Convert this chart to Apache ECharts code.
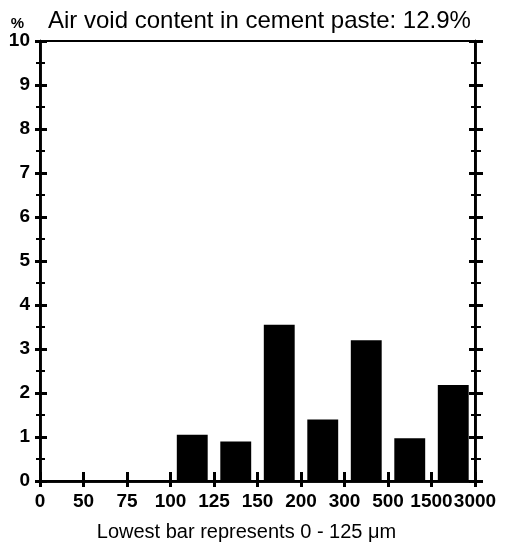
<!DOCTYPE html>
<html>
<head>
<meta charset="utf-8">
<script src="https://cdn.jsdelivr.net/npm/echarts@6/dist/echarts.min.js"></script>
<style>
html,body{margin:0;padding:0;background:#fff;}
#chart{width:507px;height:550px;}
</style>
</head>
<body>
<div id="chart"></div>
<script>
// Size classes (µm) – each bar spans the interval between two tick labels
const tickLabels = ['0', '50', '75', '100', '125', '150', '200', '300', '500', '1500', '3000'];
const categories = ['0-50', '50-75', '75-100', '100-125', '125-150', '150-200', '200-300', '300-500', '500-1500', '1500-3000'];
const values = [0, 0, 0, 1.05, 0.9, 3.55, 1.4, 3.2, 0.97, 2.18];
const yTicks = [0, 10, 1];
const titleText = 'Air void content in cement paste: 12.9%';
const xName = 'Lowest bar represents 0 - 125 \u03bcm';
const yName = '%';

const FONT = 'Liberation Sans, Arial, Helvetica, sans-serif';
const NARROW = 'Liberation Sans Narrow, Liberation Sans, Arial, sans-serif';
const chart = echarts.init(document.getElementById('chart'), null, {renderer: 'canvas'});

function yAx(position, inside, len, minorLen, showLabel, name) {
  return {
    type: 'value', position: position, min: yTicks[0], max: yTicks[1], interval: yTicks[2],
    name: name || '', nameLocation: 'end', nameGap: 10,
    nameTextStyle: {fontFamily: NARROW, fontSize: 15, fontWeight: 'bold', color: '#000', align: 'right', padding: [0, 16, 0, 0]},
    axisLine: {show: true, lineStyle: {color: '#000', width: 2.5}},
    axisTick: {show: true, inside: inside, length: len, lineStyle: {color: '#000', width: 3}},
    minorTick: {show: true, splitNumber: 2, length: minorLen, lineStyle: {color: '#000', width: 2}},
    axisLabel: {show: showLabel, margin: 10, fontFamily: NARROW, fontSize: 19, fontWeight: 'bold', color: '#000'},
    splitLine: {show: false}, minorSplitLine: {show: false}
  };
}

function xAx(inside, len, showLabel, withName) {
  return {
    type: 'value', position: 'bottom', min: 0, max: tickLabels.length - 1, interval: 1,
    name: withName ? xName : '', nameLocation: 'middle', nameGap: 41,
    nameTextStyle: {fontFamily: FONT, fontSize: 20, color: '#000', padding: [0, 22, 0, 0]},
    axisLine: {show: true, onZero: false, lineStyle: {color: '#000', width: 2.5}},
    axisTick: {show: true, inside: inside, length: len, lineStyle: {color: '#000', width: 3}},
    axisLabel: {show: showLabel, margin: 11, fontFamily: NARROW, fontSize: 19, fontWeight: 'bold', color: '#000',
      formatter: function (v) { return tickLabels[Math.round(v)]; }},
    splitLine: {show: false}
  };
}

chart.setOption({
  animation: false,
  backgroundColor: '#fff',
  title: {text: titleText, left: 43, top: 4,
    textStyle: {fontFamily: FONT, fontSize: 24, fontWeight: 'normal', color: '#000'}},
  grid: {left: 40, right: 32, top: 41, bottom: 69, show: true, borderColor: '#000', borderWidth: 2, backgroundColor: 'transparent'},
  xAxis: [
    {type: 'category', data: categories, position: 'bottom', show: false, boundaryGap: true},
    xAx(false, 6, true, true),
    xAx(true, 9, false, false)
  ],
  yAxis: [
    yAx('left', false, 5, 4, true, yName),
    yAx('left', true, 7, 5, false),
    yAx('right', false, 8, 6, false),
    yAx('right', true, 6, 4, false)
  ],
  series: [{
    type: 'bar', xAxisIndex: 0, yAxisIndex: 0,
    data: values, barCategoryGap: '29%',
    itemStyle: {color: '#000'}
  }]
});
</script>
</body>
</html>
